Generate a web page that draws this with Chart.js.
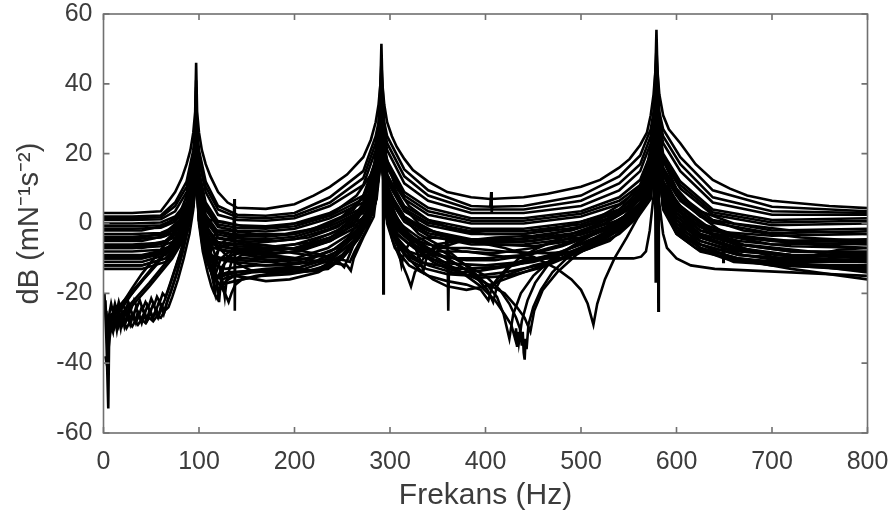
<!DOCTYPE html>
<html>
<head>
<meta charset="utf-8">
<script src="https://cdn.jsdelivr.net/npm/chart.js@4.4.1/dist/chart.umd.min.js"></script>
<style>
  html, body { margin: 0; padding: 0; background: #fff; }
  #wrap { width: 896px; height: 519px; }
</style>
</head>
<body>
<div id="wrap"><canvas id="frf" width="896" height="519"></canvas></div>
<script>
// axis ticks
const xTicks = [0, 100, 200, 300, 400, 500, 600, 700, 800];
const yTicks = [-60, -40, -20, 0, 20, 40, 60];

const a1 = [[0,3],[30,3],[60,3.5],[67,6],[75,9],[82,13],[87,17],[91,21],[94,26],[96,32],[97,46],[98,32],[100,26],[103,21],[107,17],[112,13.5],[120,9],[130,6],[140,4.5],[170,4.2],[200,5.5],[220,8],[237,10.5],[255,14],[272,19],[280,24],[285,29],[288,34],[290,40],[291,51.5],[292,40],[294,34],[297,29],[302,25],[307,22],[315,18.5],[324,15.3],[340,12],[360,9],[385,7.5],[405,7],[440,7.5],[465,8.5],[500,10.5],[520,12.5],[540,16],[551,18.5],[562,22.5],[569,26],[573,31],[576,37],[578,44],[579,55.5],[580,44],[582,37],[586,31],[592,27],[604,23],[620,17],[638,12.5],[656,10],[674,8],[700,6.5],[720,6],[760,5],[800,4.4]];
const a2 = [[0,2],[30,2],[60,2.3],[75,6],[87,12],[94,21],[96,27],[97,41],[98,27],[100,21],[107,12],[120,5],[140,2.5],[170,2.2],[200,3],[237,7.5],[272,15],[285,25],[288,29],[291,46],[294,29],[297,25],[315,15.5],[340,9.5],[385,5],[405,4.8],[406,9],[406.5,3],[407,4.8],[440,5],[500,8],[540,13.5],[562,19.5],[573,27],[576,32],[579,50],[582,32],[586,27],[604,19],[638,9.5],[700,4.8],[800,3.5]];
const a3 = [[0,1],[30,1],[60,1.2],[75,3.5],[87,9],[94,18],[96,24],[97,38],[98,24],[100,18],[107,9],[120,2.5],[140,1],[170,0.8],[200,1.5],[237,5],[272,11],[285,21],[288,26],[291,43],[294,26],[297,21],[315,11.5],[340,6.5],[385,3],[440,3],[500,5],[540,9.5],[562,15],[573,23],[576,29],[579,47],[582,29],[586,23],[604,15],[638,6],[700,2.5],[800,2.5]];
const a4 = [[0,0],[30,0],[60,0.3],[75,2],[87,6],[94,15],[96,21],[97,35],[98,21],[100,15],[107,6],[120,0.5],[140,-0.5],[170,-0.8],[200,0],[237,3],[272,8],[285,18],[288,23],[291,40],[294,23],[297,18],[315,9],[340,4.5],[385,1.5],[440,1.5],[500,3.5],[540,7.5],[562,12.5],[573,20],[576,26],[579,44],[580.5,15],[581,-25],[581.5,15],[582,26],[586,20],[604,12],[638,4],[700,1],[800,1.5]];
const a5 = [[0,-1.5],[30,-1.5],[60,-1.2],[75,0.5],[87,4],[94,13],[96,19],[97,33],[98,19],[100,13],[107,4],[120,-1],[140,-2],[170,-2.3],[200,-1.5],[237,1.5],[272,6],[285,16],[288,21],[291,38],[292.5,18],[293,-20],[293.5,18],[294,21],[297,16],[315,7],[340,2.5],[385,0],[440,0],[500,2],[540,5.5],[562,10],[573,18],[576,24],[579,42],[582,24],[586,18],[604,10],[638,2.5],[700,-0.5],[800,0]];
const a6 = [[0,-3],[30,-3],[60,-2.7],[75,-1],[87,2.5],[94,11],[96,17],[97,31],[98,17],[100,11],[107,2.5],[120,-2.5],[136,-3.5],[137,7],[137.5,-25],[138,-3.5],[170,-3.8],[200,-3],[237,0],[272,4.5],[285,14],[288,19],[291,36],[294,19],[297,14],[315,5],[340,1],[385,-1.5],[440,-1.5],[500,0.5],[540,4],[562,8.5],[573,16],[576,22],[577.5,22],[578,-17],[578.5,25],[579,40],[582,22],[586,16],[604,8],[638,1],[700,-2],[800,-1.5]];
const a7 = [[0,-4.5],[30,-4.5],[60,-4],[75,-2.5],[87,1],[94,9],[96,15],[97,29],[98,15],[100,9],[107,1],[120,-4],[140,-5],[170,-5.3],[200,-4.5],[237,-1.5],[272,3],[285,12],[288,17],[291,34],[294,17],[297,12],[315,3.5],[340,-0.5],[385,-3],[440,-3],[500,-1],[540,2.5],[562,7],[573,14],[576,20],[579,38],[582,20],[586,14],[604,6.5],[638,-0.5],[648.5,-2.5],[649,-11],[649.5,-2.5],[700,-3.5],[800,-3]];
const a8 = [[0,-6],[30,-6],[60,-5.5],[75,-4],[87,-0.5],[94,7],[96,13],[97,27],[98,13],[100,7],[107,-0.5],[120,-5.5],[140,-6.5],[170,-7],[200,-6],[237,-3],[272,1.5],[285,10],[288,15],[291,32],[294,15],[297,10],[315,2],[340,-2],[385,-4.5],[440,-4.5],[500,-2.5],[540,1],[562,5.5],[573,12],[576,18],[579,36],[582,18],[586,12],[604,5],[638,-2],[700,-5],[800,-4.5]];
const a9 = [[0,-8],[30,-8],[60,-7.5],[75,-6],[87,-2.5],[94,5],[96,11],[97,25],[98,11],[100,5],[107,-2.5],[120,-7.5],[140,-8.5],[170,-9],[200,-8],[237,-5],[272,0],[285,8],[288,13],[291,30],[294,13],[297,8],[315,0.5],[340,-3.5],[385,-6],[440,-6],[500,-4],[540,-0.5],[562,4],[573,10],[576,16],[579,34],[582,16],[586,10],[604,3.5],[638,-3.5],[670,-7],[700,-9.5],[725,-11],[745,-9],[770,-7.5],[800,-7]];
const m1 = [[0,1.5],[30,1.5],[60,1.8],[75,5],[87,10.5],[94,19.5],[96,25],[97,39],[98,25],[100,19.5],[107,10.5],[120,4],[140,1.8],[170,1.5],[200,2.2],[237,6],[272,13],[285,23],[288,27],[291,44],[294,27],[297,23],[315,13.5],[340,8],[385,4],[440,4],[500,6.5],[540,11.5],[562,17],[573,25],[576,30],[579,48],[582,30],[586,25],[604,17],[638,7.5],[700,3.5],[800,3]];
const m2 = [[0,-0.8],[30,-0.8],[60,-0.5],[75,1.2],[87,5],[94,14],[96,20],[97,34],[98,20],[100,14],[107,5],[120,-0.3],[140,-1.2],[170,-1.5],[200,-0.8],[237,2.2],[272,7],[285,17],[288,22],[291,39],[294,22],[297,17],[315,8],[340,3.5],[385,0.8],[440,0.8],[500,2.8],[540,6.5],[562,11],[573,19],[576,25],[579,43],[582,25],[586,19],[604,11],[638,3.2],[700,0.3],[800,0.8]];
const m3 = [[0,-3.8],[30,-3.8],[60,-3.3],[75,-1.8],[87,1.8],[94,10],[96,16],[97,30],[98,16],[100,10],[107,1.8],[120,-3.2],[140,-4.2],[170,-4.5],[200,-3.8],[237,-0.8],[272,3.8],[285,13],[288,18],[291,35],[294,18],[297,13],[315,4.2],[340,0.2],[385,-2.2],[440,-2.2],[500,-0.2],[540,3.2],[562,7.8],[573,15],[576,21],[579,39],[582,21],[586,15],[604,7.2],[638,0.2],[700,-2.8],[800,-2.2]];
const m4 = [[0,-7],[30,-7],[60,-6.5],[75,-5],[87,-1.5],[94,6],[96,12],[97,26],[98,12],[100,6],[107,-1.5],[120,-6.5],[140,-7.5],[170,-8],[200,-7],[237,-4],[272,0.8],[285,9],[288,14],[291,31],[294,14],[297,9],[315,1.2],[340,-2.8],[385,-5.2],[440,-5.2],[500,-3.2],[540,0.2],[562,4.8],[573,11],[576,17],[579,35],[582,17],[586,11],[604,4.2],[638,-2.8],[700,-6],[800,-5.5]];
const b1 = [[0,-2],[40,-2],[65,-0.5],[80,3],[90,10],[95,20],[97,32],[99,18],[102,8],[104,0],[106,-8],[108,-2],[112,1],[125,0.5],[150,-1],[180,-1],[210,0.5],[240,3],[265,8],[280,14],[287,20],[291,35],[295,20],[305,11],[320,5],[340,1],[370,-2],[400,-3],[440,-3],[480,-1],[520,2],[545,6],[562,11],[573,18],[579,40],[586,18],[600,10],[620,4],[660,0],[720,-2],[800,-3]];
const b2 = [[0,-5],[40,-5],[65,-3.5],[80,0],[90,7],[95,17],[97,30],[99,16],[103,6],[107,-1],[110,-8],[111,-12],[113,-6],[118,-2],[130,-2],[160,-3],[190,-3],[220,-1.5],[250,2],[270,7],[283,13],[291,33],[297,14],[310,6],[330,0],[350,-3],[380,-5],[420,-5],[470,-3],[510,0],[540,4],[560,9],[573,16],[579,38],[586,16],[600,8],[625,2],[670,-2],[730,-4],[800,-5]];
const b3 = [[0,-7],[40,-7],[65,-5.5],[80,-2],[90,5],[95,15],[97,28],[99,14],[103,4],[108,-3],[112,-8],[115,-13],[116,-16],[118,-10],[122,-6],[132,-4],[150,-4.5],[180,-5],[215,-4],[245,-1],[265,3],[280,9],[291,31],[298,10],[310,3],[330,-3],[350,-6],[375,-8],[410,-8.5],[450,-7],[490,-4],[525,0],[550,5],[565,10],[573,14],[579,36],[586,14],[600,6],[625,0],[670,-4],[740,-6],[800,-7]];
const b4 = [[0,-9],[40,-9],[65,-7.5],[80,-4],[90,3],[95,13],[97,26],[99,12],[103,2],[108,-4],[113,-9],[117,-14],[120,-19],[121,-22.5],[123,-16],[127,-11],[135,-8],[150,-7],[175,-7.5],[210,-7],[240,-4.5],[262,0],[278,6],[291,29],[298,7],[310,0],[330,-6],[350,-9],[370,-10],[400,-10],[440,-9],[480,-6],[520,-2],[545,2],[562,7],[573,12],[579,34],[586,12],[600,4],[625,-2],[670,-6],[740,-8],[800,-9]];
const b5 = [[0,-10],[40,-10],[65,-8.5],[80,-5],[90,2],[95,12],[97,25],[99,11],[103,2],[110,-4],[117,-9],[122,-13],[125,-17],[127,-21],[129,-16],[134,-11],[145,-9],[165,-9.5],[200,-10],[235,-7],[258,-3],[275,3],[291,27],[299,5],[312,-2],[330,-8],[345,-11],[360,-13],[375,-14],[395,-13.5],[430,-12],[470,-9],[510,-5],[540,0],[560,5],[573,11],[579,32],[586,10],[600,2],[625,-4],[670,-8],[740,-10],[800,-11]];
const b6 = [[0,-12],[40,-12],[65,-10],[80,-6],[90,1],[95,11],[97,24],[99,10],[103,0],[107,-6],[110,-10],[113,-14],[116,-10],[121,-7],[130,-6],[145,-6],[170,-7],[200,-8.5],[230,-9.5],[252,-10.5],[258,-11],[263,-8],[275,-2],[285,6],[291,25],[297,5],[305,-3],[315,-7],[328,-10],[335,-8],[350,-7],[380,-7],[420,-8],[460,-8.5],[500,-8],[530,-5],[550,0],[565,5],[573,9],[579,30],[586,9],[600,1],[625,-5],[670,-9],[740,-12],[800,-14]];
const c1 = [[3,-30],[8,-27],[15,-25],[22,-22],[30,-18.5],[40,-14.5],[50,-11],[60,-7.5],[70,-4],[80,0],[88,5],[93,11],[97,22],[100,10],[104,3],[110,-2],[118,-6],[128,-9],[140,-11.5],[155,-13.5],[175,-14],[200,-14],[225,-13.5],[245,-11],[262,-6],[276,0],[285,6],[291,24],[297,4],[306,-4],[316,-9],[330,-13],[345,-16],[360,-18],[380,-19],[400,-18],[430,-15],[470,-11],[510,-6],[540,-1],[560,4],[573,9],[579,28],[586,8],[600,0],[625,-6],[660,-10],[720,-13],[800,-16]];
const c2 = [[5,-28],[12,-26],[20,-23],[30,-20],[42,-16],[55,-12],[68,-7],[78,-3],[86,2],[92,8],[97,20],[100,8],[103,1],[107,-5],[111,-10],[114,-14],[116,-17],[118,-14],[123,-10],[132,-8],[145,-8.5],[165,-10],[190,-12],[215,-13.5],[235,-13],[250,-10],[265,-5],[278,1],[291,22],[296,2],[303,-5],[312,-11],[318,-15],[322,-18],[326,-14],[335,-10],[350,-8],[380,-8],[420,-9.5],[450,-10],[480,-9],[510,-6],[540,-2],[560,3],[573,8],[579,26],[586,7],[600,-1],[625,-7],[660,-11],[720,-12],[800,-12]];
const c3 = [[5,-27],[12,-25],[20,-22.5],[28,-20],[38,-17],[50,-13],[62,-9],[74,-5],[84,0],[91,6],[97,18],[100,6],[104,-2],[108,-8],[112,-13],[115,-17],[117,-20],[119,-16],[125,-12],[135,-9],[150,-8],[175,-9],[205,-10],[230,-11],[245,-11.5],[255,-12],[259,-13.5],[262,-10],[272,-4],[283,2],[291,20],[297,0],[305,-7],[320,-12],[340,-15],[360,-16.5],[380,-17.5],[395,-19],[403,-22],[407,-18],[420,-15],[450,-12],[480,-10],[510,-7],[540,-3],[560,2],[573,7],[579,24],[586,5],[600,-3],[620,-7],[650,-10],[700,-12],[750,-12.5],[800,-13]];
const d1 = [[5,-29],[15,-26],[25,-22],[35,-18],[48,-14],[60,-10],[72,-6],[83,-2],[90,3],[94,8],[97,16],[101,2],[106,-6],[115,-10],[135,-11],[170,-12],[210,-11],[245,-7],[268,-1],[282,6],[291,22],[298,6],[310,0],[330,-4],[355,-8],[380,-12],[400,-15],[415,-19],[425,-23],[432,-27],[436,-30],[438,-35],[439,-31],[440,-37],[441,-39],[442,-33],[443,-36],[445,-29],[450,-24],[458,-19],[470,-14],[485,-10],[505,-6],[525,-3],[545,0],[560,4],[570,9],[579,26],[586,8],[600,1],[625,-4],[665,-7],[720,-9],[800,-10]];
const d2 = [[5,-27],[15,-27],[25,-24],[35,-21],[48,-17],[60,-13],[72,-9],[83,-4],[90,1],[94,6],[97,15],[101,0],[106,-8],[112,-13],[118,-15],[130,-14],[160,-13.5],[200,-13],[235,-10],[262,-4],[280,3],[291,20],[297,4],[308,-2],[325,-6],[350,-10],[375,-14],[395,-18],[410,-22],[420,-26],[427,-29],[431,-33],[432,-30],[433,-35],[434,-31],[435,-34],[438,-28],[444,-22],[452,-17],[465,-12],[482,-8],[505,-4],[530,-1],[550,2],[565,6],[579,24],[586,6],[600,-1],[625,-5],[665,-8],[720,-9],[800,-9]];
const d3 = [[0,-12],[40,-12],[65,-10],[80,-5],[90,2],[97,17],[101,2],[105,-5],[110,-9],[120,-10],[140,-10.5],[170,-11],[205,-10.5],[238,-8],[262,-3],[280,3],[291,21],[297,5],[308,-1],[325,-5],[345,-8],[365,-11],[385,-14],[400,-17],[412,-21],[419,-26],[425,-33],[429,-26],[437,-20],[450,-15],[470,-10],[495,-6],[520,-2],[545,2],[563,6],[573,11],[579,28],[586,10],[600,2],[625,-3],[665,-6],[720,-8],[800,-8]];
const d4 = [[0,-10],[40,-10],[65,-8],[80,-4],[90,3],[97,20],[101,3],[106,-3],[112,-5],[125,-5.5],[150,-6],[180,-6.5],[215,-5.5],[245,-2],[268,3],[281,9],[291,28],[297,9],[306,2],[320,-3],[340,-7],[360,-10],[378,-13],[392,-16],[402,-19],[408,-22.5],[412,-18],[420,-14],[435,-10],[455,-7],[480,-4],[510,-1],[535,2],[555,6],[568,11],[579,30],[586,11],[600,3],[625,-2],[665,-5],[720,-6.5],[800,-7]];
const d5 = [[0,-4],[40,-4],[65,-2.5],[80,1],[90,8],[97,24],[101,8],[106,1],[115,-2],[135,-3],[165,-3.5],[200,-3],[235,-0.5],[262,4],[280,11],[291,30],[297,11],[310,3],[330,-1],[355,-3],[385,-5],[420,-7],[450,-9.5],[475,-13],[490,-16],[500,-19],[507,-23],[513,-29],[517,-23],[525,-16],[535,-10],[548,-4],[560,2],[570,9],[579,32],[586,12],[600,4],[625,-1],[665,-4],[720,-5.5],[800,-6]];
const d6 = [[5,-28],[15,-27],[25,-25],[35,-22],[48,-18],[60,-14],[72,-10],[83,-5],[90,0],[94,5],[97,14],[100,1],[104,-6],[109,-11],[113,-14],[117,-15.5],[125,-15],[140,-14],[170,-13],[205,-12.5],[238,-10],[262,-5],[280,2],[291,19],[297,3],[308,-3],[325,-7],[350,-11],[375,-14],[400,-17],[420,-20],[433,-24],[441,-27],[447,-31],[451,-25],[460,-19],[475,-14],[495,-9],[520,-5],[545,-1],[563,4],[579,22],[586,5],[600,-2],[625,-6],[665,-9],[720,-10],[800,-10.5]];
const e1 = [[0,-13],[40,-13],[65,-11],[80,-6],[90,1],[97,16],[101,1],[106,-6],[112,-9],[125,-10],[150,-10],[180,-10.5],[215,-10],[245,-7],[268,-2],[282,4],[291,22],[297,5],[306,-1],[320,-4],[340,-6],[358,-7],[360,-3],[361,-25],[362,-8],[375,-11],[390,-14.5],[405,-18.5],[412,-16],[425,-12],[445,-10],[480,-10],[520,-10],[555,-10],[563,-9.5],[568,-8],[572,-2],[576,8],[579,26],[581,8],[586,-3],[590,-7],[600,-10],[615,-12],[640,-13],[680,-13.5],[720,-14],[760,-14.5],[800,-15]];
const f1 = [[0,-11],[40,-11],[65,-9],[80,-5],[90,2],[97,18],[101,2],[106,-4],[115,-7],[135,-8],[170,-8.5],[205,-8],[238,-5],[262,0],[278,6],[291,26],[297,8],[303,0],[308,-6],[312,-12],[315,-8],[322,-5],[340,-4],[370,-4.5],[410,-5.5],[450,-5],[490,-3],[525,0],[550,4],[565,9],[579,30],[586,11],[600,3],[625,-3],[665,-6],[720,-8],[800,-8.5]];
const f2 = [[0,-9.5],[40,-9.5],[65,-8],[80,-4],[90,3],[97,19],[101,3],[106,-3],[115,-6],[135,-7],[170,-7.5],[205,-7],[238,-4],[262,1],[278,7],[291,27],[297,9],[305,3],[315,-2],[325,-6],[331,-10],[335,-13.5],[339,-9],[348,-6],[370,-5],[410,-6],[450,-6.5],[490,-5],[525,-2],[550,2],[565,7],[579,29],[586,10],[600,2],[625,-3.5],[665,-7],[720,-9.5],[800,-11]];
const f3 = [[0,-6.5],[40,-6.5],[65,-5],[80,-1],[90,6],[97,21],[101,5],[106,-1],[115,-4],[135,-5],[165,-6],[200,-7.5],[230,-9],[245,-10.5],[252,-12.5],[256,-10],[265,-4],[279,4],[291,28],[297,8],[306,1],[320,-4],[335,-7],[345,-9.5],[352,-7],[375,-5],[410,-4],[450,-3.5],[490,-2],[525,1],[550,5],[565,10],[579,31],[586,12],[600,4],[625,-1],[665,-3.5],[720,-5],[800,-5]];
const n1 = [[1,-20],[3,-33],[5,-53],[6,-30],[8,-28],[10,-26],[12,-29],[14,-27],[16,-25],[18,-28],[20,-26],[22,-29],[24,-27],[26,-25],[28,-28],[30,-26],[33,-28],[36,-25.5],[39,-27.5],[42,-26],[45,-28],[48,-25],[51,-27],[54,-25.5],[57,-27],[60,-24],[63,-26],[66,-23],[70,-20],[76,-15],[82,-9],[88,-2],[93,6],[97,15],[100,2],[105,-6],[112,-12],[118,-16],[124,-18.5],[128,-20.5],[131,-22.5],[134,-20],[138,-17.5],[145,-16],[160,-15],[185,-14],[215,-13.5],[240,-11.5],[260,-6.5],[276,0],[286,7],[291,20],[297,2],[306,-5],[316,-9],[330,-11],[350,-12],[375,-13],[410,-12.5],[450,-11],[490,-8],[525,-4],[550,0],[566,5],[579,25],[586,6],[600,-2],[625,-7],[665,-10],[720,-11.5],[800,-12.5]];
const n2 = [[2,-38],[4,-41],[5,-30],[7,-31],[9,-29],[11,-30],[13,-28],[15,-30],[17,-28.5],[19,-29.5],[21,-28],[24,-30],[27,-28.5],[30,-29.5],[33,-28],[36,-29],[40,-27.5],[44,-28.5],[48,-27],[52,-28],[56,-26.5],[60,-27],[64,-25],[68,-24],[72,-21],[78,-16],[84,-10],[90,-3],[94,4],[97,13],[100,0],[104,-8],[109,-14],[113,-18],[116,-20],[119,-21.5],[122,-19],[128,-16.5],[137,-15],[150,-15.5],[170,-16.5],[195,-16],[225,-14],[250,-10],[268,-4],[282,3],[291,18],[297,1],[307,-6],[320,-10.5],[338,-13],[360,-14.5],[390,-15],[420,-14],[455,-12],[490,-9],[520,-5],[548,0],[565,5],[579,23],[586,4],[600,-3],[625,-8],[665,-10.5],[720,-11],[800,-11]];
const n3 = [[2,-22],[4,-35],[6,-26],[8,-23],[10,-25.5],[12,-23],[14,-25],[16,-22.5],[18,-24.5],[20,-23],[23,-25],[26,-22.5],[29,-24.5],[32,-22],[35,-24],[38,-22],[41,-24.5],[44,-22.5],[47,-24],[50,-21.5],[53,-23.5],[56,-21],[59,-22.5],[62,-20],[65,-21],[70,-17],[76,-12],[82,-7],[88,-1],[93,7],[97,17],[100,3],[104,-4],[110,-9],[118,-12],[128,-13],[140,-12.5],[160,-12],[190,-12],[220,-11],[245,-8],[265,-3],[280,3],[291,21],[297,3],[307,-3],[320,-6],[335,-8],[355,-9.5],[380,-10.5],[410,-10.5],[445,-9],[480,-6.5],[515,-3],[545,1],[565,6],[579,26],[586,7],[600,0],[625,-4],[665,-7.5],[720,-9],[800,-9.5]];
const n4 = [[3,-25],[5,-32],[7,-27],[9,-30],[11,-27.5],[13,-29],[15,-26],[17,-28],[19,-25.5],[21,-27.5],[23,-25],[25,-27],[28,-24.5],[31,-27],[34,-24],[37,-26.5],[40,-24],[43,-26],[46,-23.5],[49,-25.5],[52,-23],[55,-25],[58,-22.5],[61,-24],[64,-22],[68,-19],[74,-14],[80,-9],[86,-3],[92,4],[97,14],[100,1],[105,-7],[111,-13],[116,-16],[122,-17.5],[130,-17],[145,-16],[165,-15],[195,-14.5],[225,-13],[250,-9],[268,-3],[282,4],[291,19],[297,2],[307,-4],[320,-8],[340,-10],[365,-11.5],[400,-12],[440,-11],[480,-8],[515,-4],[545,0],[565,5],[579,24],[586,5],[600,-2],[625,-6],[665,-9],[720,-10.5],[800,-11]];
const n5 = [[4,-30],[6,-34],[8,-29],[10,-31],[12,-27],[14,-30.5],[16,-27],[18,-30],[20,-26.5],[22,-29.5],[25,-26.5],[28,-29],[31,-26],[34,-28.5],[37,-26],[40,-28.5],[43,-25.5],[46,-27.5],[49,-25],[52,-27],[55,-24.5],[58,-26.5],[61,-23.5],[64,-25],[67,-22],[71,-19],[77,-14],[83,-8],[89,-1],[94,6],[97,14],[100,1],[104,-7],[110,-12],[116,-15],[124,-16],[136,-15],[155,-14],[180,-13.5],[210,-13],[238,-10.5],[262,-5],[280,2],[291,19],[297,2],[307,-5],[320,-9],[340,-12],[365,-14],[395,-15.5],[425,-15],[460,-12.5],[495,-8.5],[525,-4.5],[550,0],[566,5],[579,24],[586,5],[600,-2.5],[625,-7],[665,-10],[720,-12],[800,-13.5]];

const curves = [a1, a2, a3, a4, a5, a6, a7, a8, a9, m1, m2, m3, m4,
  b1, b2, b3, b4, b5, b6, c1, c2, c3, d1, d2, d3, d4, d5, d6,
  e1, f1, f2, f3, n1, n2, n3, n4, n5];

const fontFamily = '"Liberation Sans", Arial, Helvetica, sans-serif';
const textColor = '#3c3c3c';
const axisColor = '#707070';

// box round the plot with inward ticks, MATLAB style
const boxAxes = {
  id: 'boxAxes',
  afterDatasetsDraw(chart) {
    const { ctx, chartArea: ca, scales: { x, y } } = chart;
    ctx.save();
    ctx.strokeStyle = axisColor;
    ctx.lineWidth = 1.6;
    ctx.strokeRect(ca.left, ca.top, ca.right - ca.left, ca.bottom - ca.top);
    ctx.beginPath();
    xTicks.forEach(v => {
      const px = x.getPixelForValue(v);
      ctx.moveTo(px, ca.bottom); ctx.lineTo(px, ca.bottom - 6);
      ctx.moveTo(px, ca.top); ctx.lineTo(px, ca.top + 6);
    });
    yTicks.forEach(v => {
      const py = y.getPixelForValue(v);
      ctx.moveTo(ca.left, py); ctx.lineTo(ca.left + 6, py);
      ctx.moveTo(ca.right, py); ctx.lineTo(ca.right - 6, py);
    });
    ctx.stroke();
    ctx.restore();
  }
};

new Chart(document.getElementById('frf'), {
  type: 'line',
  data: {
    datasets: curves.map((c, i) => ({
      label: 'curve ' + (i + 1),
      data: c,
      borderColor: '#000',
      borderWidth: 2.6,
      pointRadius: 0,
      tension: 0,
      fill: false
    }))
  },
  options: {
    responsive: false,
    animation: false,
    events: [],
    layout: { padding: { top: 14, right: 28.5, left: 0, bottom: 0 } },
    plugins: { legend: { display: false }, tooltip: { enabled: false } },
    scales: {
      x: {
        type: 'linear',
        min: 0,
        max: 800,
        afterFit(s) { s.height = 86; s.paddingLeft = 0; s.paddingRight = 0; },
        afterBuildTicks(s) { s.ticks = xTicks.map(v => ({ value: v })); },
        grid: { display: false, drawTicks: false },
        border: { display: false },
        ticks: { color: textColor, padding: 14, maxRotation: 0, autoSkip: false, font: { family: fontFamily, size: 25 } },
        title: { display: true, text: 'Frekans (Hz)', color: textColor, padding: { top: 0, bottom: 5 }, font: { family: fontFamily, size: 30 } }
      },
      y: {
        min: -60,
        max: 60,
        afterFit(s) { s.width = 103.5; s.paddingTop = 0; s.paddingBottom = 0; },
        afterBuildTicks(s) { s.ticks = yTicks.map(v => ({ value: v })); },
        grid: { display: false, drawTicks: false },
        border: { display: false },
        ticks: { color: textColor, padding: 11, autoSkip: false, font: { family: fontFamily, size: 25 } },
        title: { display: true, text: 'dB (mN\u207B\u00B9s\u207B\u00B2)', color: textColor, padding: { top: 13, bottom: 0 }, font: { family: fontFamily, size: 29 } }
      }
    }
  },
  plugins: [boxAxes]
});
</script>
</body>
</html>
